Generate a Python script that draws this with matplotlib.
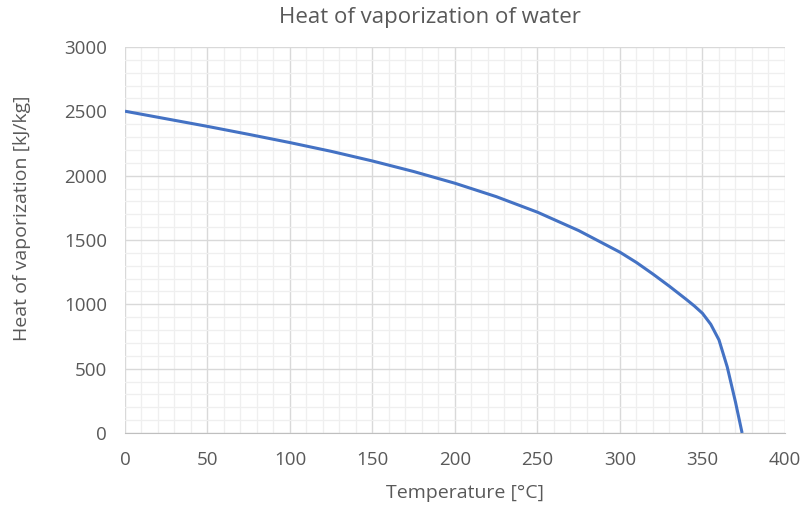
import numpy as np
import matplotlib.pyplot as plt
from matplotlib.ticker import MultipleLocator

plt.rcParams['font.family'] = ['Open Sans', 'DejaVu Sans']

# temperature [°C] and latent heat [kJ/kg]
temp = [0, 25, 50, 75, 100, 125, 150, 175, 200, 225, 250, 275, 300, 310,
        320, 330, 335, 340, 345, 350, 355, 360, 365, 370, 374]
hvap = [2501, 2442, 2383, 2321, 2257, 2189, 2114, 2032, 1941, 1837, 1716,
        1573, 1405, 1325, 1235, 1140, 1090, 1040, 988, 930, 845, 723, 513,
        240, 0]

txt = '#595959'

fig = plt.figure(figsize=(8.04, 5.08), dpi=100)
ax = fig.add_axes([125/804, 1-433/508, 660/804, 386/508])

ax.plot(temp, hvap, color='#4472C4', lw=2.2, solid_capstyle='butt',
        solid_joinstyle='round', zorder=3)

ax.set_xlim(0, 400)
ax.set_ylim(0, 3000)
ax.xaxis.set_major_locator(MultipleLocator(50))
ax.xaxis.set_minor_locator(MultipleLocator(10))
ax.yaxis.set_major_locator(MultipleLocator(500))
ax.yaxis.set_minor_locator(MultipleLocator(100))
ax.grid(which='major', color='#D9D9D9', lw=1.0)
ax.grid(which='minor', color='#EFEFEF', lw=0.9)
ax.set_axisbelow(True)
for s in ['top', 'right', 'left']:
    ax.spines[s].set_visible(False)
ax.spines['bottom'].set_color('#BFBFBF')
ax.tick_params(which='both', length=0, labelsize=13.5, colors=txt)
ax.tick_params(axis='y', pad=13)
ax.tick_params(axis='x', pad=13)

# title sits centred on the whole chart, not the plot area
fig.text(430/804, 1-18/508, 'Heat of vaporization of water', fontsize=16,
         color=txt, ha='center', va='center')
ax.set_xlabel('Temperature [°C]', fontsize=14, color=txt, labelpad=11)
ax.set_ylabel('Heat of vaporization [kJ/kg]', fontsize=14, color=txt, labelpad=24)
ax.xaxis.label.set_x(0.515)
ax.yaxis.label.set_y(0.557)

fig.savefig('out.png', dpi=100)
